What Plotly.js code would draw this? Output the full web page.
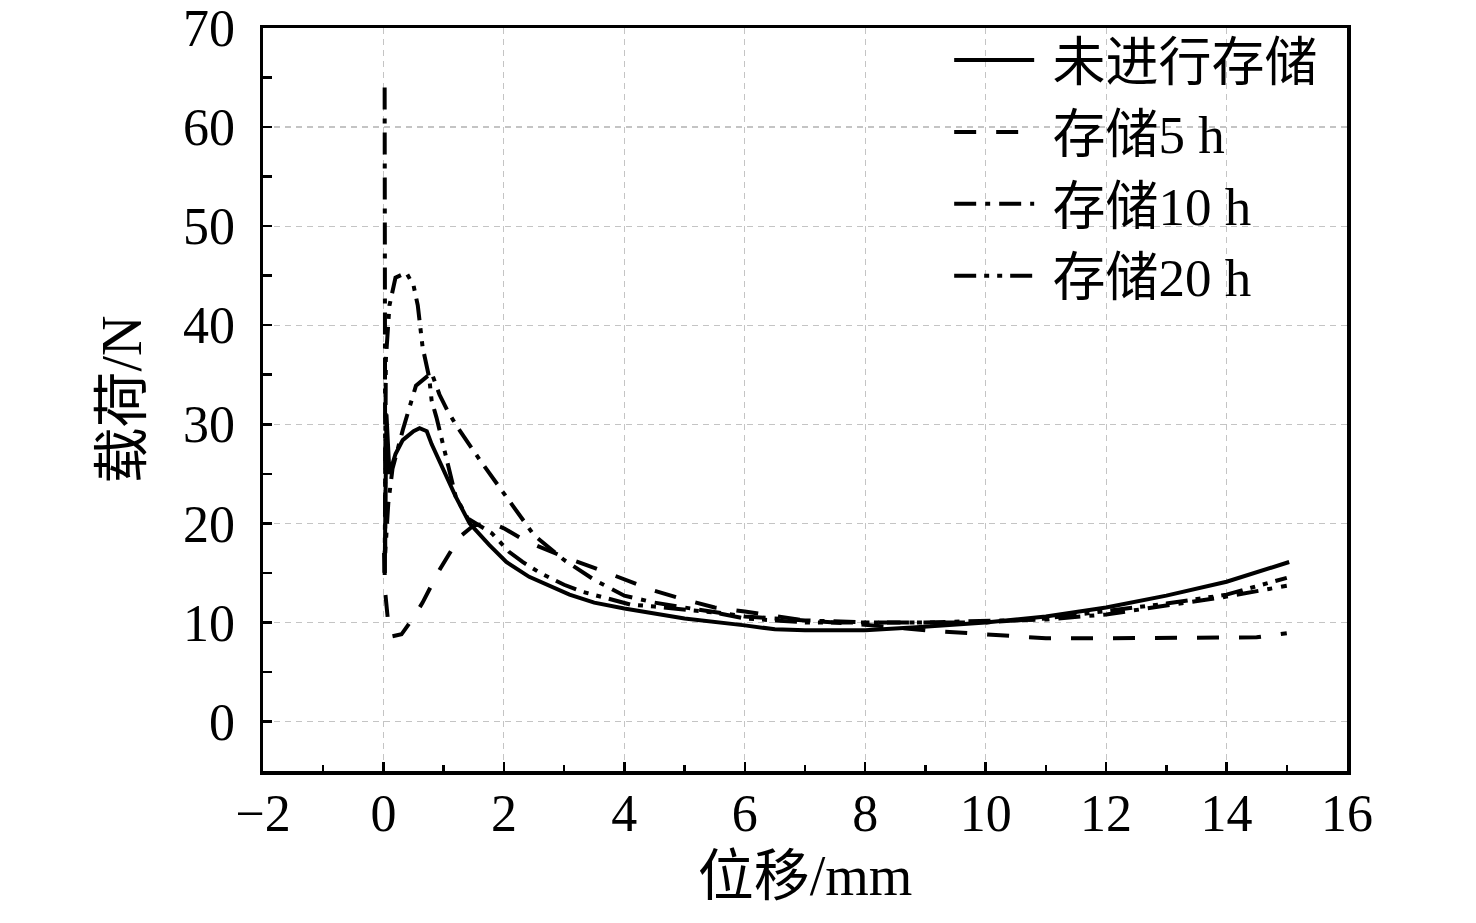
<!DOCTYPE html>
<html>
<head>
<meta charset="utf-8">
<script src="https://cdn.plot.ly/plotly-3.0.1.min.js"></script>
<style>
  html, body { margin: 0; padding: 0; background: #fff; }
  #chart { width: 1476px; height: 923px; }
</style>
</head>
<body>
<div id="chart"></div>
<script>
const seriesNames = ["未进行存储", "存储5 h", "存储10 h", "存储20 h"];

// 未进行存储
const x0 = [0.02, 0.05, 0.1, 0.2, 0.32, 0.5, 0.6, 0.72, 0.8, 1.0, 1.2, 1.43, 1.76, 2.04, 2.42, 3.09, 3.5, 4.0, 5.0, 6.0, 6.5, 7.0, 8.0, 8.85, 10.0, 11.0, 12.0, 13.0, 14.0, 15.04];
const y0 = [15, 31, 25, 27, 28.4, 29.3, 29.6, 29.3, 28, 25.3, 22.7, 20, 17.8, 16.1, 14.6, 12.8, 12.0, 11.4, 10.4, 9.7, 9.3, 9.2, 9.2, 9.5, 10.0, 10.6, 11.5, 12.7, 14.1, 16.1];

// 存储5 h
const x5 = [0.01, 0.03, 0.07, 0.15, 0.3, 0.5, 0.65, 0.93, 1.26, 1.5, 1.8, 2.0, 2.37, 3.0, 3.5, 4.0, 4.5, 5.0, 5.5, 6.0, 6.5, 7.0, 7.5, 8.0, 8.5, 9.0, 9.5, 10.0, 10.5, 11.0, 12.0, 13.0, 14.0, 14.5, 15.0];
const y5 = [17, 13, 10.5, 8.6, 8.8, 10.5, 12, 15.3, 18.6, 19.8, 20, 19.5, 18.2, 16.6, 15.5, 14.3, 13.2, 12.3, 11.5, 11.1, 10.6, 10.2, 10.0, 9.8, 9.5, 9.2, 9.0, 8.7, 8.5, 8.4, 8.4, 8.4, 8.4, 8.5, 8.9];

// 存储10 h
const x10 = [0.02, 0.03, 0.08, 0.15, 0.32, 0.54, 0.8, 0.93, 1.06, 1.23, 1.6, 2.04, 2.5, 3.0, 3.5, 4.0, 4.5, 5.0, 5.5, 6.0, 7.0, 8.0, 9.0, 10.0, 11.0, 12.0, 13.0, 14.0, 15.0];
const y10 = [64, 17, 22, 25.5, 29.4, 33.9, 35.2, 33, 31.4, 29.7, 26.4, 22.6, 18.8, 16.3, 14.3, 12.7, 12.0, 11.5, 11.0, 10.6, 10.2, 10.0, 10.0, 10.1, 10.3, 10.8, 11.7, 12.6, 13.7];

// 存储20 h
const x20 = [0.02, 0.04, 0.1, 0.2, 0.38, 0.5, 0.57, 0.65, 0.76, 0.8, 0.88, 0.98, 1.04, 1.2, 1.4, 1.8, 2.09, 2.31, 2.6, 3.0, 3.3, 3.7, 4.1, 4.5, 5.0, 5.5, 6.0, 7.0, 8.0, 9.0, 10.0, 11.0, 12.0, 13.0, 14.0, 15.0];
const y20 = [15, 36.5, 42, 44.8, 45.3, 44, 42, 37.8, 34.7, 32.4, 30.7, 28.2, 26.7, 22.7, 20.5, 19, 17.1, 16.1, 15, 13.8, 13.1, 12.4, 11.8, 11.6, 11.3, 11.0, 10.4, 10.0, 10.0, 10.0, 10.0, 10.4, 11.1, 11.9, 12.8, 14.5];

const xTicks = [-2, 0, 2, 4, 6, 8, 10, 12, 14, 16];
const yTicks = [0, 10, 20, 30, 40, 50, 60, 70];

const fontFamily = "Liberation Serif, 'Times New Roman', 'Noto Sans CJK SC', serif";
const lineW = 4;

const traces = [
  { x: x0, y: y0, name: seriesNames[0], dash: "solid" },
  { x: x5, y: y5, name: seriesNames[1], dash: "22px,20px" },
  { x: x10, y: y10, name: seriesNames[2], dash: "22px,9px,5px,9px" },
  { x: x20, y: y20, name: seriesNames[3], dash: "22px,8px,5px,8px,5px,8px" },
].map((s) => ({
  x: s.x,
  y: s.y,
  // small gap between the legend line and its label
  name: "\u00a0" + s.name,
  type: "scatter",
  mode: "lines",
  line: { color: "#000", width: lineW, dash: s.dash },
}));

const axisCommon = {
  showline: true,
  linecolor: "#000",
  linewidth: 3.5,
  mirror: true,
  ticks: "inside",
  ticklen: 9,
  tickwidth: 2.5,
  tickcolor: "#000",
  showgrid: true,
  gridcolor: "#c4c4c4",
  gridwidth: 1.2,
  griddash: "6px,5px",
  zeroline: false,
  tickfont: { family: fontFamily, size: 52, color: "#000" },
};

const layout = {
  width: 1476,
  height: 923,
  margin: { l: 263, r: 129, t: 28, b: 152 },
  paper_bgcolor: "#fff",
  plot_bgcolor: "#fff",
  font: { family: fontFamily, color: "#000" },
  xaxis: Object.assign({}, axisCommon, {
    range: [-2, 16],
    tickmode: "array",
    tickvals: xTicks,
    ticktext: xTicks.map((v) => (v < 0 ? "\u2212" + Math.abs(v) : String(v))),
    ticklabelstandoff: -6,
    minor: { dtick: 1, ticks: "inside", ticklen: 6, tickwidth: 2.5, tickcolor: "#000", showgrid: false },
    title: { text: "位移/mm", font: { family: fontFamily, size: 56, color: "#000" }, standoff: 16 },
  }),
  yaxis: Object.assign({}, axisCommon, {
    range: [-5, 70],
    tickmode: "array",
    tickvals: yTicks,
    ticklabelstandoff: 14,
    minor: { dtick: 5, ticks: "inside", ticklen: 9, tickwidth: 2.5, tickcolor: "#000", showgrid: false },
    title: { text: "载荷/N", font: { family: fontFamily, size: 56, color: "#000" }, standoff: 24 },
  }),
  // white patch behind the legend, over the grid but under the curves and frame
  shapes: [
    {
      type: "rect",
      xref: "paper",
      yref: "paper",
      x0: 0.625,
      x1: 1,
      y0: 0.625,
      y1: 1,
      fillcolor: "#fff",
      line: { width: 0 },
      layer: "between",
    },
  ],
  showlegend: true,
  legend: {
    x: 0.633,
    y: 1.012,
    xanchor: "left",
    yanchor: "top",
    bgcolor: "rgba(0,0,0,0)",
    borderwidth: 0,
    itemwidth: 80,
    tracegroupgap: 0,
    font: { family: fontFamily, size: 53, color: "#000" },
  },
};

Plotly.newPlot("chart", traces, layout, { displayModeBar: false, staticPlot: true });
</script>
</body>
</html>
